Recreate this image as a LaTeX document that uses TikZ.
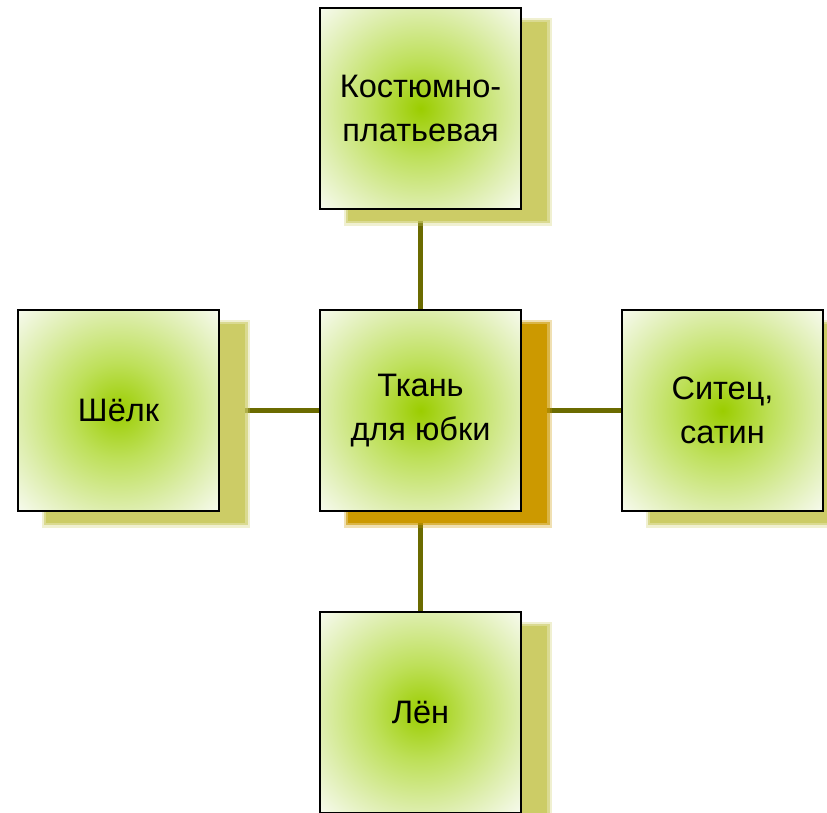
\documentclass[tikz,border=0pt]{standalone}
\usepackage{fontspec}
\setmainfont{Liberation Sans}
\usetikzlibrary{shadows,backgrounds}

\definecolor{linkolive}{RGB}{107,107,0}
\definecolor{shadeolive}{RGB}{204,204,102}
\definecolor{shadegold}{RGB}{204,153,0}
\definecolor{glowgreen}{RGB}{155,205,0}
\definecolor{glowmid}{RGB}{190,224,90}
\definecolor{glowpale}{RGB}{222,238,175}
\definecolor{glowedge}{RGB}{246,250,236}
\pgfdeclareradialshading{glow}{\pgfpoint{0bp}{0bp}}{color(0bp)=(glowgreen); color(12bp)=(glowmid); color(25bp)=(glowpale); color(35bp)=(glowedge); color(50bp)=(white)}

\tikzset{
	box/.style={draw=black, line width=1.5pt, minimum width=201pt, minimum height=201pt,
		inner sep=0pt, align=center, shading=glow, font=\fontsize{32.5}{43.5}\selectfont},
	% soft edge first, then the solid shadow
	softshadow/.style={
		general shadow={shadow xshift=27pt, shadow yshift=-13pt, shadow scale=1.035,
			fill=#1, opacity=0.3, rounded corners=5pt},
		general shadow={shadow xshift=27pt, shadow yshift=-13pt, shadow scale=1.012,
			fill=#1, opacity=0.6, rounded corners=3pt},
		general shadow={shadow xshift=27pt, shadow yshift=-13pt, shadow scale=0.99,
			fill=#1, opacity=1, rounded corners=2pt}},
	topic/.style={box, softshadow=shadeolive},
	hub/.style={box, softshadow=shadegold},
	link/.style={linkolive, line width=4.5pt}
}

\begin{document}
\begin{tikzpicture}[x=1pt, y=-1pt]
	\useasboundingbox (0,0) rectangle (827,812);

	\node[topic] (dress) at (420.5,108.5) {Костюмно-\\платьевая};
	\node[hub] (skirt) at (420.5,410.5) {Ткань\\для юбки};
	\node[topic] (silk) at (118.5,410.5) {Шёлк};
	\node[topic] (chintz) at (722.5,410.5) {Ситец,\\сатин};
	\node[topic] (linen) at (420.5,712.5) {Лён};

	\begin{pgfonlayer}{background}
	\foreach \leaf in {dress,silk,chintz,linen}
		\draw[link] (skirt) -- (\leaf);
	\end{pgfonlayer}
\end{tikzpicture}
\end{document}
